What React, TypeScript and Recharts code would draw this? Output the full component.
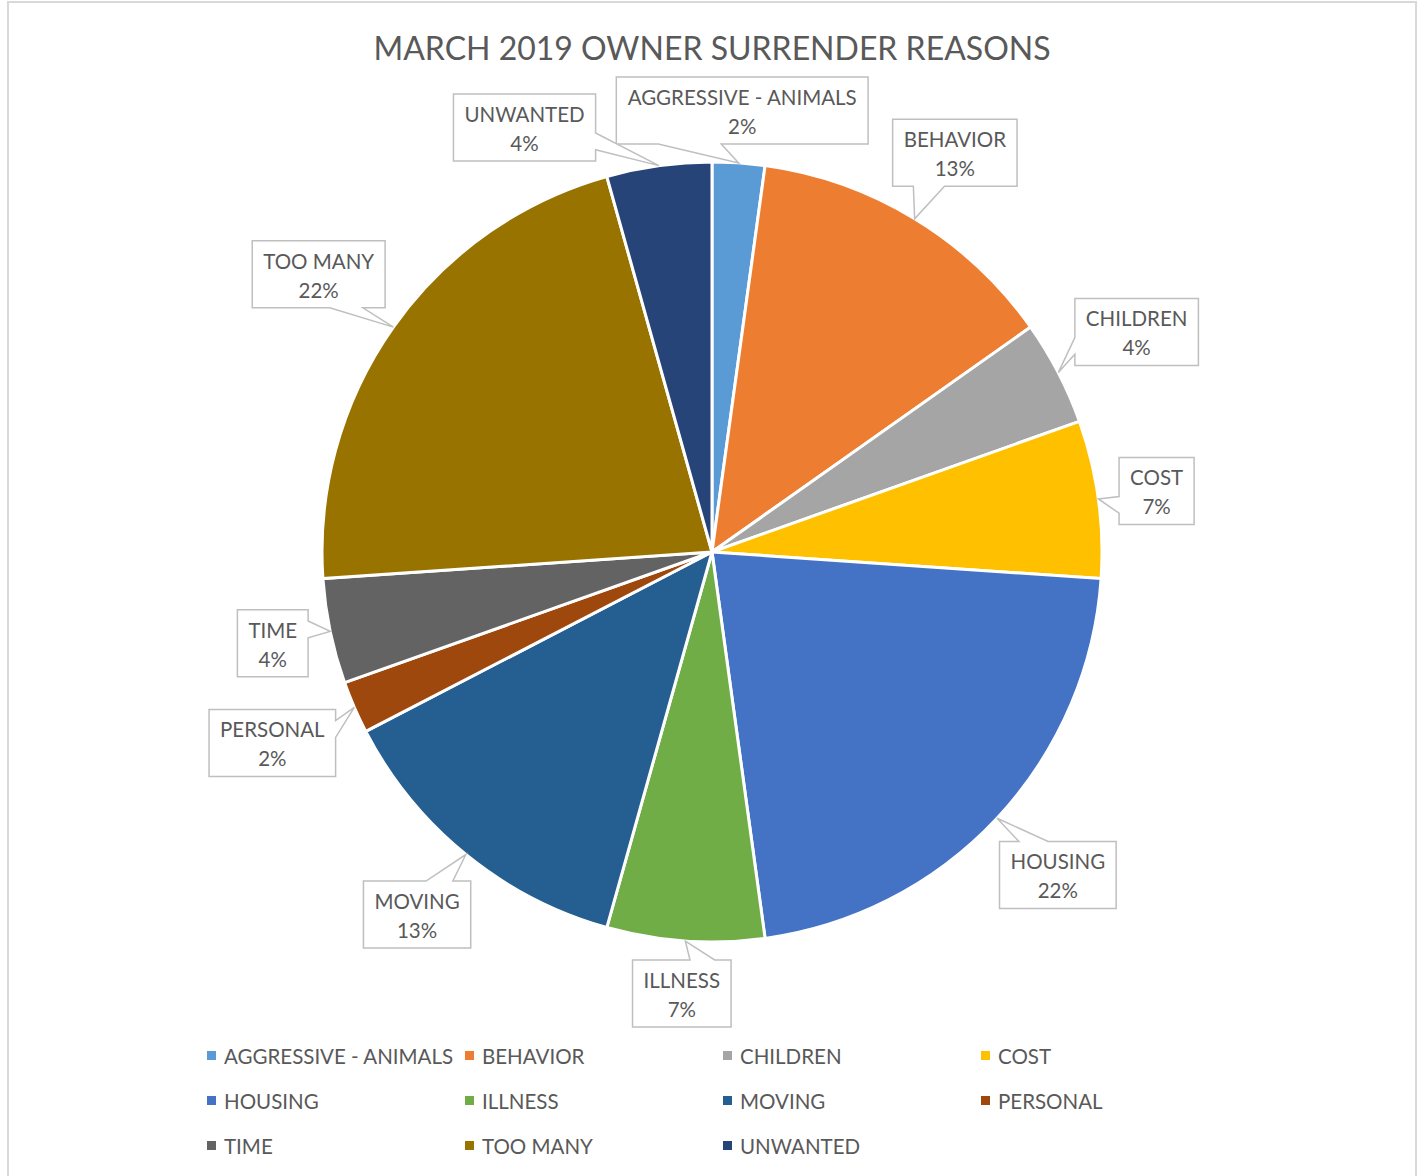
import React from 'react';
import { PieChart, Pie, Cell, Legend } from 'recharts';

// surrender reasons, counted for march 2019 (46 animals)
const categories = [
  'AGGRESSIVE - ANIMALS',
  'BEHAVIOR',
  'CHILDREN',
  'COST',
  'HOUSING',
  'ILLNESS',
  'MOVING',
  'PERSONAL',
  'TIME',
  'TOO MANY',
  'UNWANTED',
];
const counts = [1, 6, 2, 3, 10, 3, 6, 1, 2, 10, 2];
const colors = [
  '#5B9BD5', '#ED7D31', '#A5A5A5', '#FFC000', '#4472C4', '#70AD47',
  '#255E91', '#9E480E', '#636363', '#997300', '#264478',
];
const title = 'MARCH 2019 OWNER SURRENDER REASONS';

const data = categories.map((name, i) => ({ name, value: counts[i] }));

const FONT = 'Lato, "Open Sans", sans-serif';
const INK = '#595959';
const LABEL_SIZE = 20.5;
const GAP = 18; // how far a callout box sits off the rim

let ctx: CanvasRenderingContext2D | null = null;
const textWidth = (s: string) => {
  if (!ctx) ctx = document.createElement('canvas').getContext('2d');
  if (!ctx) return s.length * LABEL_SIZE * 0.6;
  ctx.font = `${LABEL_SIZE}px Lato`;
  return ctx.measureText(s).width;
};

type Box = { x0: number; y0: number; x1: number; y1: number; angle?: number };
let placed: Box[] = [];

const overlaps = (a: Box, b: Box, pad: number) =>
  a.x0 < b.x1 + pad && b.x0 < a.x1 + pad && a.y0 < b.y1 + pad && b.y0 < a.y1 + pad;

// centre the box on the ray and push it out until its nearest point is GAP px off the rim
function boxAt(cx: number, cy: number, r: number, a: number, w: number, h: number): Box {
  const ux = Math.cos(a);
  const uy = -Math.sin(a);
  let lo = 0;
  let hi = r + GAP + w + h;
  for (let k = 0; k < 40; k++) {
    const d = (lo + hi) / 2;
    const mx = ux * d;
    const my = uy * d;
    const px = Math.min(Math.max(0, mx - w / 2), mx + w / 2);
    const py = Math.min(Math.max(0, my - h / 2), my + h / 2);
    if (Math.hypot(px, py) < r + GAP) lo = d;
    else hi = d;
  }
  const mx = cx + ux * hi;
  const my = cy + uy * hi;
  return { x0: mx - w / 2, y0: my - h / 2, x1: mx + w / 2, y1: my + h / 2 };
}

// same outline as office's wedgeRectCallout
function callout(b: Box, tx: number, ty: number) {
  const w = b.x1 - b.x0;
  const h = b.y1 - b.y0;
  const dx = tx - (b.x0 + w / 2);
  const dy = ty - (b.y0 + h / 2);
  const out = !(tx > b.x0 && tx < b.x1 && ty > b.y0 && ty < b.y1);
  const vert = Math.abs(dy) - Math.abs((dx * h) / w) > 0;
  const x1 = b.x0 + (w * (dx > 0 ? 7 : 2)) / 12;
  const x2 = b.x0 + (w * (dx > 0 ? 10 : 5)) / 12;
  const y1 = b.y0 + (h * (dy > 0 ? 7 : 2)) / 12;
  const y2 = b.y0 + (h * (dy > 0 ? 10 : 5)) / 12;
  const tip = `L${tx},${ty}`;
  let d = `M${b.x0},${b.y0}`;
  if (out && vert && dy < 0) d += `L${x1},${b.y0}${tip}L${x2},${b.y0}`;
  d += `L${b.x1},${b.y0}`;
  if (out && !vert && dx > 0) d += `L${b.x1},${y1}${tip}L${b.x1},${y2}`;
  d += `L${b.x1},${b.y1}`;
  if (out && vert && dy > 0) d += `L${x2},${b.y1}${tip}L${x1},${b.y1}`;
  d += `L${b.x0},${b.y1}`;
  if (out && !vert && dx < 0) d += `L${b.x0},${y2}${tip}L${b.x0},${y1}`;
  return d + 'Z';
}

const RAD = Math.PI / 180;

const renderLabel = (props: any) => {
  const { cx, cy, midAngle, outerRadius, percent, index } = props;
  const name = props.name ?? categories[index];
  if (index === 0) placed = [];
  const pct = `${Math.round(percent * 100)}%`;
  const w = Math.max(textWidth(name), textWidth(pct)) + 22;
  const h = 67;

  let a = midAngle;
  let box = boxAt(cx, cy, outerRadius, a * RAD, w, h);
  for (let k = 0; k < 90; k++) {
    const hit = placed.find((p) => overlaps(p, box, 14));
    if (!hit) break;
    const diff = ((((midAngle - (hit.angle ?? 0)) % 360) + 540) % 360) - 180;
    a += diff >= 0 ? 1 : -1;
    box = boxAt(cx, cy, outerRadius, a * RAD, w, h);
  }
  placed.push({ ...box, angle: midAngle });

  const tx = cx + outerRadius * Math.cos(-midAngle * RAD);
  const ty = cy + outerRadius * Math.sin(-midAngle * RAD);
  const mid = (box.x0 + box.x1) / 2;

  return (
    <g key={`lbl-${index}`}>
      <path d={callout(box, tx, ty)} fill="#fff" stroke="#BFBFBF" strokeWidth={1.5} />
      <text x={mid} y={box.y0 + 28} textAnchor="middle" fill={INK} fontSize={LABEL_SIZE} fontFamily={FONT}>
        {name}
      </text>
      <text x={mid} y={box.y0 + 57} textAnchor="middle" fill={INK} fontSize={LABEL_SIZE} fontFamily={FONT}>
        {pct}
      </text>
    </g>
  );
};

const renderLegend = () => (
  <div style={{ display: 'grid', gridTemplateColumns: 'repeat(4, 258px)', gridAutoRows: '45px' }}>
    {categories.map((c, i) => (
      <div key={c} style={{ display: 'flex', alignItems: 'center', whiteSpace: 'nowrap' }}>
        <span style={{ width: 9, height: 9, background: colors[i], marginRight: 8, flex: 'none' }} />
        <span style={{ fontFamily: FONT, fontSize: LABEL_SIZE, color: INK }}>{c}</span>
      </div>
    ))}
  </div>
);

export default function App() {
  return (
    <div style={{ position: 'absolute', left: 0, top: 0, width: 1424, height: 1176, background: '#fff', overflow: 'hidden' }}>
      <div
        style={{
          position: 'absolute',
          left: 7,
          top: 1,
          width: 1410,
          height: 1175,
          boxSizing: 'border-box',
          border: '2px solid #D9D9D9',
          borderBottom: 'none',
        }}
      />
      <div
        style={{
          position: 'absolute',
          left: 0,
          top: 28,
          width: 1424,
          textAlign: 'center',
          fontFamily: FONT,
          fontSize: 32,
          lineHeight: '40px',
          color: INK,
        }}
      >
        {title}
      </div>
      <div style={{ position: 'absolute', left: 0, top: 0 }}>
        <PieChart width={1424} height={1176} margin={{ top: 0, right: 0, bottom: 0, left: 0 }}>
          <Pie
            data={data}
            dataKey="value"
            nameKey="name"
            cx={712}
            cy={552}
            outerRadius={390}
            startAngle={90}
            endAngle={-270}
            stroke="#fff"
            strokeWidth={3}
            labelLine={false}
            label={renderLabel}
            isAnimationActive={false}
          >
            {data.map((d, i) => (
              <Cell key={d.name} fill={colors[i]} />
            ))}
          </Pie>
          <Legend
            content={renderLegend}
            wrapperStyle={{ position: 'absolute', left: 207, top: 1033, width: 1040, height: 135 }}
          />
        </PieChart>
      </div>
    </div>
  );
}
